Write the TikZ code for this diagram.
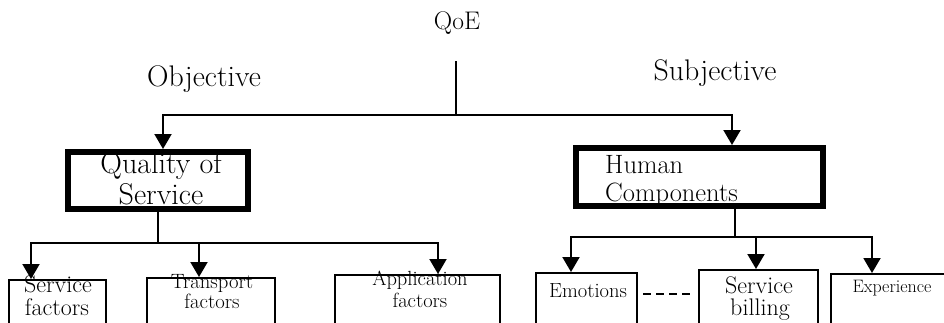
\documentclass[tikz,border=0pt]{standalone}
\usepackage{fontspec}
\usetikzlibrary{arrows.meta}
\newcommand{\fsz}[1]{\fontsize{#1}{#1}\selectfont}
\tikzset{
  thickbox/.style={draw, line width=6pt, rectangle, inner sep=0pt},
  thinbox/.style={draw, line width=2pt, rectangle, inner sep=0pt},
  lbl/.style={inner sep=0pt, anchor=base},
  link/.style={line width=2pt},
  arr/.style={line width=2pt, -{Triangle[width=17pt,length=15pt]}},
  dashlink/.style={line width=2pt, dash pattern=on 8pt off 5pt, shorten <=5pt, shorten >=5pt},
}
\begin{document}
\begin{tikzpicture}[x=1pt, y=-1pt]
\useasboundingbox (0,0) rectangle (944,322);
\clip (0,0) rectangle (944,322);

% headings
\node[lbl] (qoe) at (457,29) {\fsz{25.5}QoE};
\node[lbl] (obj) at (204,86) {\fsz{29.8}Objective};
\node[lbl] (subj) at (715,80) {\fsz{29.8}Subjective};

% second level boxes
\node[thickbox, minimum width=180pt, minimum height=57pt] (qos) at (158,180.5) {};
\node[lbl] (qos1) at (161,173) {\fsz{30}Quality of};
\node[lbl] (qos2) at (161,204) {\fsz{30}Service};

\node[thickbox, minimum width=247pt, minimum height=58pt] (hc) at (699.5,177) {};
\node[lbl, anchor=base west] (hc1) at (605,173) {\fsz{26.5}Human};
\node[lbl, anchor=base west] (hc2) at (605,201) {\fsz{26.5}Components};

% third level boxes (running off the lower edge)
\node[thinbox, minimum width=97pt, minimum height=60pt] (sf) at (57.5,310) {};
\node[lbl] (sf1) at (58,292) {\fsz{24}Service};
\node[lbl] (sf2) at (57,315) {\fsz{24}factors};

\node[thinbox, minimum width=128pt, minimum height=62pt] (tf) at (211,309) {};
\node[lbl] (tf1) at (212,288) {\fsz{20.7}Transport};
\node[lbl] (tf2) at (212,308) {\fsz{20.7}factors};

\node[thinbox, minimum width=165pt, minimum height=65pt] (af) at (417.5,307.5) {};
\node[lbl] (af1) at (420,285) {\fsz{20.5}Application};
\node[lbl] (af2) at (420,307) {\fsz{20.5}factors};

\node[thinbox, minimum width=101pt, minimum height=67pt] (em) at (586.5,306.5) {};
\node[lbl] (em1) at (588,297) {\fsz{20.5}Emotions};

\node[thinbox, minimum width=119pt, minimum height=70pt] (sb) at (758.5,305) {};
\node[lbl] (sb1) at (759,293) {\fsz{24}Service};
\node[lbl] (sb2) at (760,315) {\fsz{24}billing};

\node[thinbox, minimum width=119pt, minimum height=66pt] (ex) at (890.5,307) {};
\node[lbl] (ex1) at (892,292) {\fsz{18}Experience};

% junction points
\coordinate (qoetop) at (456,61);
\coordinate (qoejn) at (456,115);
\coordinate (qosin) at (163,0);
\coordinate (hcin) at (732,0);
\coordinate (qosjn) at (158,243);
\coordinate (sfin) at (31,0);
\coordinate (tfin) at (199,0);
\coordinate (afin) at (438,0);
\coordinate (hcout) at (735,0);
\coordinate (hcjn) at (735,237);
\coordinate (emin) at (571,0);
\coordinate (sbin) at (756,0);
\coordinate (exin) at (872,0);

% QoE split
\draw[link] (qoetop) -- (qoejn);
\draw[arr] (qoejn) -| (qosin |- qos.north);
\draw[arr] (qoejn) -| (hcin |- hc.north);

% Quality of Service split
\draw[link] (qos.south) -- (qosjn);
\draw[arr] (qosjn) -| (sfin |- sf.north);
\draw[arr] (qosjn) -| (tfin |- tf.north);
\draw[arr] (qosjn) -| (afin |- af.north);

% Human Components split
\draw[link] (hcout |- hc.south) -- (hcjn);
\draw[arr] (hcjn) -| (emin |- em.north);
\draw[arr] (hcjn) -| (sbin |- sb.north);
\draw[arr] (hcjn) -| (exin |- ex.north);

% dashed link between sibling boxes
\coordinate (dashy) at (0,294);
\draw[dashlink] (em.east |- dashy) -- (sb.west |- dashy);
\end{tikzpicture}
\end{document}
